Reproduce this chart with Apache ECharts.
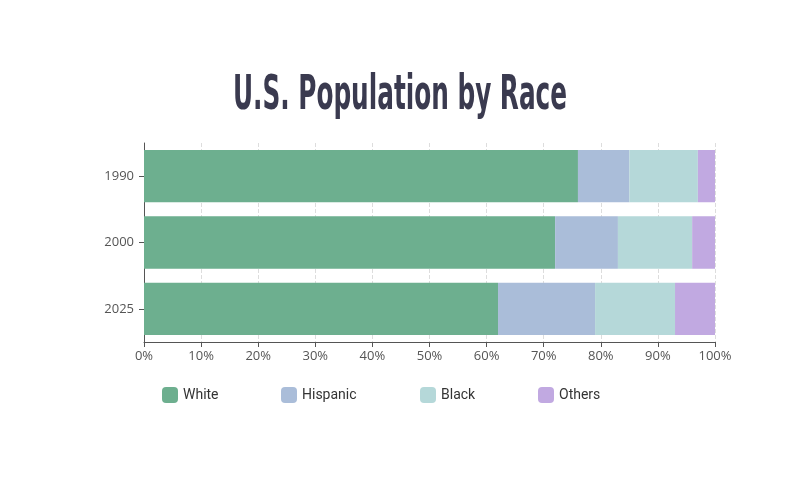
<!DOCTYPE html>
<html><head><meta charset="utf-8">
<script src="https://cdn.jsdelivr.net/npm/echarts@6/dist/echarts.min.js"></script>
<style>html,body{margin:0;padding:0;background:#fff}#c{width:800px;height:500px}</style>
</head><body><div id="c"></div>
<script>
var titleText = 'U.S. Population by Race';
var categories = ['2025', '2000', '1990'];
var seriesNames = ['White', 'Hispanic', 'Black', 'Others'];
var white = [62, 72, 76];
var hispanic = [17, 11, 9];
var black = [14, 13, 12];
var others = [7, 4, 3];
var xTicks = [0, 10, 20, 30, 40, 50, 60, 70, 80, 90, 100];

var colors = ['#6daf8f', '#aabdd9', '#b5d8d9', '#c1a9e1'];
var values = [white, hispanic, black, others];
var legendLeft = [157, 276, 415, 533];

var chart = echarts.init(document.getElementById('c'));
var series = seriesNames.map(function (n, i) {
  return {
    name: n, type: 'bar', stack: 'total', data: values[i],
    barCategoryGap: '21%', itemStyle: { color: colors[i] }
  };
});
var legends = seriesNames.map(function (n, i) {
  return {
    data: [n], left: legendLeft[i], top: 382, itemWidth: 16, itemHeight: 16,
    icon: 'roundRect', itemGap: 5,
    textStyle: { fontFamily: 'Roboto', fontSize: 14, color: '#333' }
  };
});
chart.setOption({
  animation: false,
  graphic: [{
    type: 'text', x: 400, y: 73, scaleX: 0.573, scaleY: 1, z: 100,
    style: {
      text: titleText, x: 0, y: 0, align: 'center', verticalAlign: 'top',
      font: "bold 48px 'DejaVu Sans Condensed', 'DejaVu Sans', sans-serif",
      fill: '#3a3a4f'
    }
  }],
  legend: legends,
  grid: { left: 144, right: 85, top: 143, bottom: 158 },
  xAxis: {
    type: 'value', min: 0, max: 100, interval: 10,
    axisLine: { show: true, lineStyle: { color: '#555' } },
    axisTick: { show: true, length: 5, lineStyle: { color: '#555' } },
    axisLabel: { color: '#555', fontFamily: 'Open Sans', fontSize: 13, margin: 8,
      formatter: function (v) { return xTicks.indexOf(v) >= 0 ? v + '%' : ''; } },
    splitLine: { show: true, lineStyle: { color: '#ddd', type: 'dashed' } }
  },
  yAxis: {
    type: 'category', data: categories,
    axisLine: { show: true, lineStyle: { color: '#555' } },
    axisTick: { show: true, alignWithLabel: true, length: 5, lineStyle: { color: '#555' } },
    axisLabel: { color: '#555', fontFamily: 'Open Sans', fontSize: 13, margin: 10 }
  },
  series: series
});
</script></body></html>
